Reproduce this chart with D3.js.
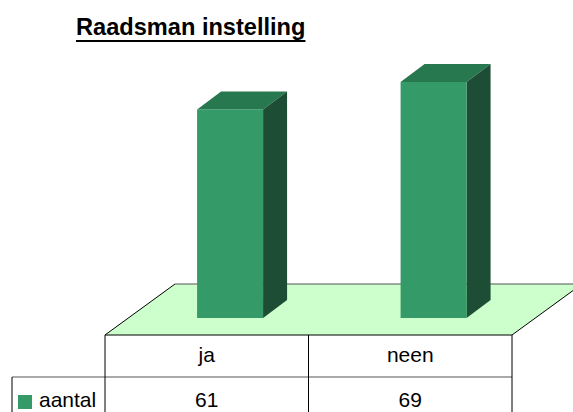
<!DOCTYPE html>
<html>
<head>
<meta charset="utf-8">
<script src="https://cdn.jsdelivr.net/npm/d3@7"></script>
<style>
  body { margin: 0; background: #fff; }
  text { font-family: "Liberation Sans", Arial, sans-serif; }
</style>
</head>
<body>
<div id="chart"></div>
<script>
// data
const categories = ["ja", "neen"];
const values = [61, 69];
const seriesName = "aantal";
const title = "Raadsman instelling";

const width = 573, height = 412;

const svg = d3.select("#chart").append("svg")
    .attr("width", width)
    .attr("height", height);

// table columns / floor front edge
const x = d3.scaleBand().domain(categories).range([105, 512]);
// floor depth offset (back edge relative to front)
const depthX = 70, depthY = -51;
const floorY = 335;
// bars stand at 1/3 of the floor depth
const barShiftX = depthX / 3, barShiftY = depthY / 3;
const baseY = floorY + barShiftY;
const y = d3.scaleLinear().domain([0, 80]).range([baseY, baseY - 80 * 3.42]);
const barW = 66, barDX = 24, barDY = -18;

// floor
const fl = x.range()[0], fr = x.range()[1];
svg.append("path")
    .attr("d", `M${fl},${floorY}L${fl + depthX},${floorY + depthY}L${fr + depthX},${floorY + depthY}L${fr},${floorY}Z`)
    .attr("fill", "#ccffcc")
    .attr("stroke", "none");
svg.append("line")
    .attr("x1", fl + depthX).attr("x2", fr + depthX)
    .attr("y1", floorY + depthY).attr("y2", floorY + depthY)
    .attr("stroke", "#555").attr("stroke-width", 1);
svg.append("path")
    .attr("d", `M${fl},${floorY}L${fl + depthX},${floorY + depthY}M${fr},${floorY}L${fr + depthX},${floorY + depthY}`)
    .attr("stroke", "#000").attr("fill", "none");

// bars
const bars = svg.selectAll("g.bar")
    .data(categories.map((c, i) => ({cat: c, val: values[i]})))
    .enter().append("g").attr("class", "bar");

const bx = d => x(d.cat) + (x.bandwidth() - barW) / 2 + barShiftX;

bars.append("path") // top
    .attr("d", d => {
        const x0 = bx(d), yt = y(d.val);
        return `M${x0},${yt}L${x0 + barDX},${yt + barDY}L${x0 + barW + barDX},${yt + barDY}L${x0 + barW},${yt}Z`;
    })
    .attr("fill", "#28784f");
bars.append("path") // side
    .attr("d", d => {
        const x1 = bx(d) + barW, yt = y(d.val);
        return `M${x1},${yt}L${x1 + barDX},${yt + barDY}L${x1 + barDX},${baseY + barDY}L${x1},${baseY}Z`;
    })
    .attr("fill", "#1d4d34");
bars.append("rect") // front
    .attr("x", d => bx(d))
    .attr("y", d => y(d.val))
    .attr("width", barW)
    .attr("height", d => baseY - y(d.val))
    .attr("fill", "#349a67");

// data table
const rowY = 377;
svg.append("line")
    .attr("x1", fl).attr("x2", fr).attr("y1", floorY).attr("y2", floorY)
    .attr("stroke", "#000");
svg.append("line")
    .attr("x1", 12).attr("x2", fr).attr("y1", rowY).attr("y2", rowY)
    .attr("stroke", "#555");
svg.append("line")
    .attr("x1", 12).attr("x2", 12).attr("y1", rowY).attr("y2", height)
    .attr("stroke", "#000");
const colEdges = [fl].concat(categories.map(c => x(c) + x.bandwidth()));
svg.selectAll("line.col")
    .data(colEdges)
    .enter().append("line").attr("class", "col")
    .attr("x1", d => d).attr("x2", d => d)
    .attr("y1", floorY).attr("y2", height)
    .attr("stroke", "#000");

svg.selectAll("text.cat")
    .data(categories)
    .enter().append("text").attr("class", "cat")
    .attr("x", d => x(d) + x.bandwidth() / 2)
    .attr("y", 362)
    .attr("text-anchor", "middle")
    .attr("font-size", 21)
    .text(d => d);
svg.selectAll("text.val")
    .data(values)
    .enter().append("text").attr("class", "val")
    .attr("x", (d, i) => x(categories[i]) + x.bandwidth() / 2)
    .attr("y", 407)
    .attr("text-anchor", "middle")
    .attr("font-size", 21)
    .text(d => d);

// legend key in table
svg.append("rect")
    .attr("x", 18).attr("y", 395).attr("width", 14).attr("height", 14)
    .attr("fill", "#349a67");
svg.append("text")
    .attr("x", 39).attr("y", 407)
    .attr("font-size", 21)
    .text(seriesName);

// title
const t = svg.append("text")
    .attr("x", 76).attr("y", 35)
    .attr("font-size", 23.6)
    .attr("font-weight", "bold")
    .text(title);
const tw = t.node().getComputedTextLength();
svg.append("line")
    .attr("x1", 76).attr("x2", 76 + tw)
    .attr("y1", 41).attr("y2", 41)
    .attr("stroke", "#000").attr("stroke-width", 2);
</script>
</body>
</html>
